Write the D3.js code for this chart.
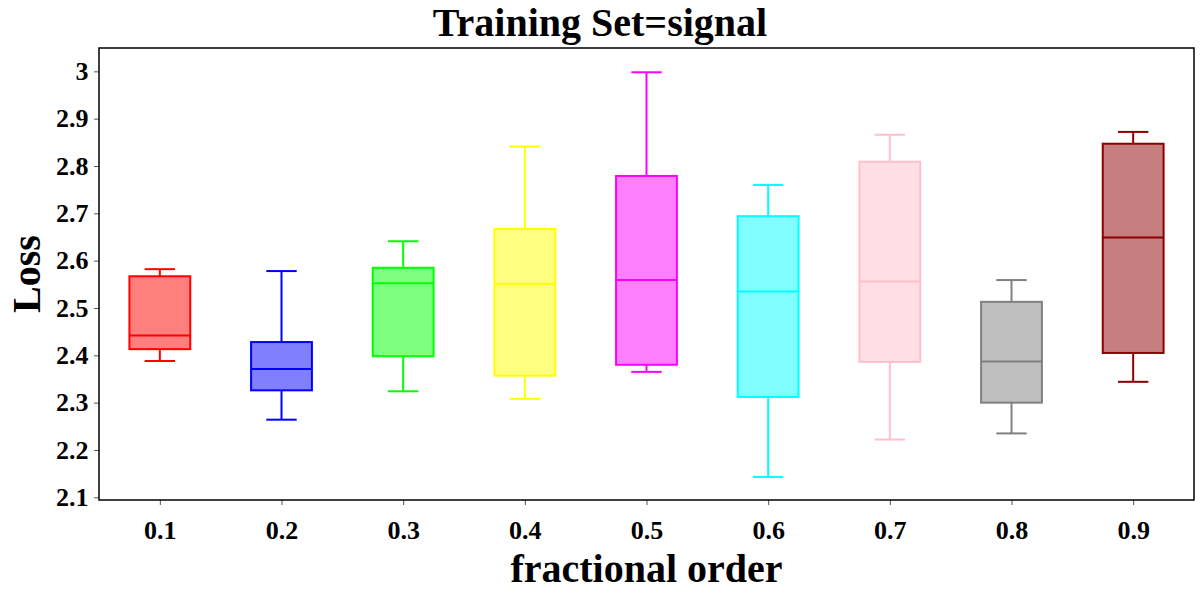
<!DOCTYPE html>
<html>
<head>
<meta charset="utf-8">
<script src="https://cdn.jsdelivr.net/npm/d3@7"></script>
<style>
  body { margin: 0; background: #fff; }
  text { font-family: "Liberation Serif", "DejaVu Serif", serif; font-weight: bold; }
</style>
</head>
<body>
<script>
const wdth = 1200;
const hght = 600;
const margin = { top: 48, right: 6, bottom: 100, left: 99 };

// categories and box statistics
const orders = ["0.1", "0.2", "0.3", "0.4", "0.5", "0.6", "0.7", "0.8", "0.9"];
const colors = ["red", "blue", "lime", "yellow", "magenta", "cyan", "pink", "gray", "darkred"];
const whiskerHigh = [2.582, 2.578, 2.641, 2.841, 2.998, 2.760, 2.866, 2.559, 2.872];
const q3 = [2.567, 2.428, 2.585, 2.667, 2.779, 2.694, 2.809, 2.513, 2.847];
const median = [2.442, 2.371, 2.552, 2.551, 2.559, 2.535, 2.556, 2.387, 2.649];
const q1 = [2.413, 2.326, 2.398, 2.357, 2.380, 2.312, 2.386, 2.300, 2.405];
const whiskerLow = [2.388, 2.264, 2.324, 2.308, 2.365, 2.143, 2.222, 2.235, 2.344];
const yTicks = [2.1, 2.2, 2.3, 2.4, 2.5, 2.6, 2.7, 2.8, 2.9, 3];

const boxes = orders.map((o, i) => ({
  order: o, color: colors[i],
  hi: whiskerHigh[i], q3: q3[i], med: median[i], q1: q1[i], lo: whiskerLow[i]
}));

const svg = d3.select("body").append("svg")
  .attr("width", wdth)
  .attr("height", hght);

const innerW = wdth - margin.left - margin.right;
const innerH = hght - margin.top - margin.bottom;

const x = d3.scaleLinear().domain([0.5, 9.5]).range([0, innerW]);
const y = d3.scaleLinear().domain([2.0943, 3.0493]).range([innerH, 0]);

const g = svg.append("g")
  .attr("transform", "translate(" + margin.left + "," + margin.top + ")");

const boxW = x(1.5) - x(1);
const capW = boxW / 2;

const bx = g.selectAll(".box")
  .data(boxes)
  .enter()
  .append("g")
  .attr("class", "box")
  .attr("transform", (d, i) => "translate(" + x(i + 1) + ",0)");

// whiskers
bx.append("line")
  .attr("x1", 0).attr("x2", 0)
  .attr("y1", d => y(d.q3)).attr("y2", d => y(d.hi))
  .attr("stroke", d => d.color).attr("stroke-width", 2);
bx.append("line")
  .attr("x1", 0).attr("x2", 0)
  .attr("y1", d => y(d.q1)).attr("y2", d => y(d.lo))
  .attr("stroke", d => d.color).attr("stroke-width", 2);
// caps
bx.append("line")
  .attr("x1", -capW / 2).attr("x2", capW / 2)
  .attr("y1", d => y(d.hi)).attr("y2", d => y(d.hi))
  .attr("stroke", d => d.color).attr("stroke-width", 2);
bx.append("line")
  .attr("x1", -capW / 2).attr("x2", capW / 2)
  .attr("y1", d => y(d.lo)).attr("y2", d => y(d.lo))
  .attr("stroke", d => d.color).attr("stroke-width", 2);
// box
bx.append("rect")
  .attr("x", -boxW / 2)
  .attr("width", boxW)
  .attr("y", d => y(d.q3))
  .attr("height", d => y(d.q1) - y(d.q3))
  .attr("fill", d => d.color)
  .attr("fill-opacity", 0.5)
  .attr("stroke", d => d.color)
  .attr("stroke-width", 2);
// median
bx.append("line")
  .attr("x1", -boxW / 2).attr("x2", boxW / 2)
  .attr("y1", d => y(d.med)).attr("y2", d => y(d.med))
  .attr("stroke", d => d.color).attr("stroke-width", 2);

// axes
const xAxis = g.append("g")
  .attr("transform", "translate(0," + innerH + ")")
  .call(d3.axisBottom(x).tickValues(d3.range(1, 10)).tickFormat((d, i) => orders[i]).tickSize(5).tickSizeOuter(0));
const yAxis = g.append("g")
  .call(d3.axisLeft(y).tickValues(yTicks).tickFormat(d3.format("")).tickSize(5).tickSizeOuter(0));

[xAxis, yAxis].forEach(a => {
  a.select(".domain").remove();
  a.selectAll(".tick line").attr("stroke", "#555").attr("stroke-width", 1);
  a.selectAll(".tick text")
    .attr("fill", "#000")
    .style("font-size", "26px");
});
xAxis.selectAll(".tick text").attr("dy", "1.2em");
yAxis.selectAll(".tick text").attr("dx", "-0.1em");

// frame
g.append("rect")
  .attr("width", innerW)
  .attr("height", innerH)
  .attr("fill", "none")
  .attr("stroke", "#000")
  .attr("stroke-width", 1.5);

// title and labels
svg.append("text")
  .text("Training Set=signal")
  .attr("x", wdth / 2)
  .attr("y", 36)
  .attr("text-anchor", "middle")
  .style("font-size", "40px");

svg.append("text")
  .text("fractional order")
  .attr("x", margin.left + innerW / 2)
  .attr("y", 582)
  .attr("text-anchor", "middle")
  .style("font-size", "40px");

svg.append("text")
  .text("Loss")
  .attr("transform", "translate(40," + (margin.top + innerH / 2) + ") rotate(-90)")
  .attr("text-anchor", "middle")
  .style("font-size", "40px");
</script>
</body>
</html>
